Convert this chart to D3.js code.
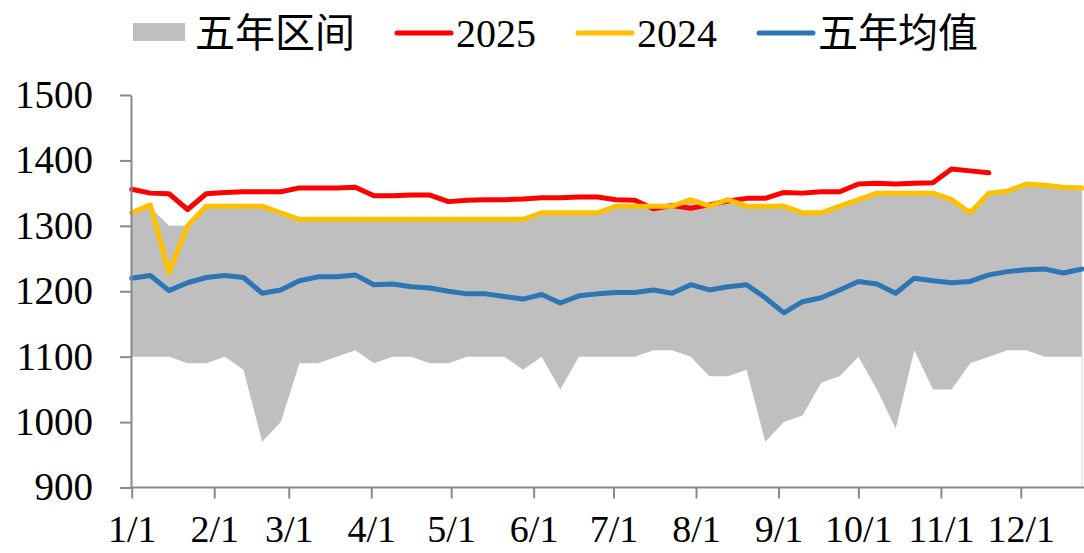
<!DOCTYPE html>
<html>
<head>
<meta charset="utf-8">
<script src="https://cdn.jsdelivr.net/npm/d3@7"></script>
<style>
  body { margin: 0; background: #fff; }
  svg text { font-family: "Liberation Serif", "Noto Sans CJK SC", serif; fill: #000; }
</style>
</head>
<body>
<div id="chart"></div>
<script>
// ----- data (weekly) ----- //

const weeks = ["01-01","01-08","01-15","01-22","01-29","02-05","02-12","02-19","02-26",
  "03-05","03-12","03-19","03-26","04-02","04-09","04-16","04-23","04-30",
  "05-07","05-14","05-21","05-28","06-04","06-11","06-18","06-25",
  "07-02","07-09","07-16","07-23","07-30","08-06","08-13","08-20","08-27",
  "09-03","09-10","09-17","09-24","10-01","10-08","10-15","10-22","10-29",
  "11-05","11-12","11-19","11-26","12-03","12-10","12-17","12-24"];

const rangeLow = [1100,1100,1100,1090,1090,1100,1080,970,1000,1090,1090,1100,1110,
  1090,1100,1100,1090,1090,1100,1100,1100,1080,1100,1050,1100,1100,
  1100,1100,1110,1110,1100,1070,1070,1080,970,1000,1010,1060,1070,
  1100,1050,990,1110,1050,1050,1090,1100,1110,1110,1100,1100,1100];

const rangeHigh = [1320,1328,1300,1300,1330,1330,1330,1330,1320,1310,1310,1310,1310,
  1310,1310,1310,1310,1310,1310,1310,1310,1310,1320,1320,1320,1320,
  1330,1330,1330,1330,1340,1330,1340,1330,1330,1330,1320,1320,1330,
  1340,1350,1350,1350,1350,1340,1320,1350,1353,1364,1362,1359,1358];

const y2025 = [1356,1350,1349,1325,1349,1351,1352,1352,1352,1358,1358,1358,1359,
  1346,1346,1347,1347,1337,1339,1340,1340,1341,1343,1343,1344,1344,
  1340,1339,1326,1331,1327,1332,1338,1342,1342,1351,1350,1352,1352,
  1364,1365,1364,1365,1366,1387,1384,1381];

const y2024 = [1320,1332,1228,1300,1330,1330,1330,1330,1320,1310,1310,1310,1310,
  1310,1310,1310,1310,1310,1310,1310,1310,1310,1320,1320,1320,1320,
  1330,1330,1330,1330,1340,1330,1340,1330,1330,1330,1320,1320,1330,
  1340,1350,1350,1350,1350,1340,1320,1350,1353,1364,1362,1359,1358];

const avg5 = [1220,1224,1201,1213,1221,1224,1221,1197,1202,1216,1222,1222,1225,
  1210,1211,1207,1205,1200,1196,1196,1192,1188,1195,1182,1193,1196,
  1198,1198,1202,1197,1210,1202,1207,1210,1190,1167,1184,1190,1202,
  1215,1211,1197,1220,1216,1213,1215,1225,1230,1233,1234,1228,1234];

const monthTicks = ["01-01","02-01","03-01","04-01","05-01","06-01","07-01","08-01","09-01","10-01","11-01","12-01"];
const monthLabels = ["1/1","2/1","3/1","4/1","5/1","6/1","7/1","8/1","9/1","10/1","11/1","12/1"];
const yTicks = [900,1000,1100,1200,1300,1400,1500];

const legendNames = ["五年区间","2025","2024","五年均值"];

// ----- setup ----- //

const W = 1084, H = 553;
const parse = d3.timeParse("%Y-%m-%d");
const toDate = s => parse("2025-" + s);

const svg = d3.select("#chart").append("svg")
  .attr("width", W)
  .attr("height", H);

const x = d3.scaleTime()
  .domain([toDate("01-01"), toDate("12-24")])
  .range([131.7, 1082]);

const y = d3.scaleLinear()
  .domain([900, 1500])
  .range([487.5, 95]);

// ----- band ----- //

const band = weeks.map((w, i) => ({ d: toDate(w), lo: rangeLow[i], hi: rangeHigh[i] }));

svg.append("path")
  .datum(band)
  .attr("fill", "#bfbfbf")
  .attr("d", d3.area()
    .x(d => x(d.d))
    .y0(d => y(d.lo))
    .y1(d => y(d.hi)));

// faint right edge of the band
svg.append("line")
  .attr("x1", x(toDate(weeks[weeks.length - 1])))
  .attr("x2", x(toDate(weeks[weeks.length - 1])))
  .attr("y1", y(rangeHigh[rangeHigh.length - 1]))
  .attr("y2", y(900))
  .attr("stroke", "#d6d6d6")
  .attr("stroke-width", 1);

// ----- lines ----- //

const line = d3.line()
  .x(d => x(d.d))
  .y(d => y(d.v));

const series = [
  { vals: y2025, color: "#ff0000" },
  { vals: y2024, color: "#ffc000" },
  { vals: avg5, color: "#2e75b6" }
];

series.forEach(s => {
  svg.append("path")
    .datum(s.vals.map((v, i) => ({ d: toDate(weeks[i]), v: v })))
    .attr("fill", "none")
    .attr("stroke", s.color)
    .attr("stroke-width", 5)
    .attr("stroke-linejoin", "round")
    .attr("stroke-linecap", "round")
    .attr("d", line);
});

// ----- axes ----- //

const axisX = d3.axisBottom(x)
  .tickValues(monthTicks.map(toDate))
  .tickFormat((d, i) => monthLabels[i])
  .tickSize(11)
  .tickPadding(17)
  .tickSizeOuter(0);

const gx = svg.append("g")
  .attr("transform", `translate(0, ${y(900)})`)
  .call(axisX);
gx.select(".domain").attr("d", `M${x.range()[0] - 1},0H${W}`);
gx.selectAll("line, .domain").attr("stroke", "#898989").attr("stroke-width", 2);
gx.selectAll("text").style("font-size", "38px");

const axisY = d3.axisLeft(y)
  .tickValues(yTicks)
  .tickFormat(d3.format("d"))
  .tickSize(11)
  .tickPadding(27)
  .tickSizeOuter(0);

const gy = svg.append("g")
  .attr("transform", `translate(131, 0)`)
  .call(axisY);
gy.selectAll("line, .domain").attr("stroke", "#898989").attr("stroke-width", 2);
gy.selectAll("text").style("font-size", "39px");

// ----- legend ----- //

const legendX = [133, 395, 576, 757];
const legendColors = ["#bfbfbf", "#ff0000", "#ffc000", "#2e75b6"];
const lg = svg.append("g");

legendNames.forEach((name, i) => {
  if (i === 0) {
    lg.append("rect")
      .attr("x", legendX[i]).attr("y", 23)
      .attr("width", 52).attr("height", 18)
      .attr("fill", legendColors[i]);
  } else {
    lg.append("line")
      .attr("x1", legendX[i] + 2).attr("x2", legendX[i] + 56)
      .attr("y1", 33).attr("y2", 33)
      .attr("stroke", legendColors[i])
      .attr("stroke-width", 5)
      .attr("stroke-linecap", "round");
  }
  lg.append("text")
    .attr("x", legendX[i] + (i === 0 ? 62 : 61))
    .attr("y", 33)
    .attr("dominant-baseline", "central")
    .style("font-size", "40px")
    .text(name);
});
</script>
</body>
</html>
